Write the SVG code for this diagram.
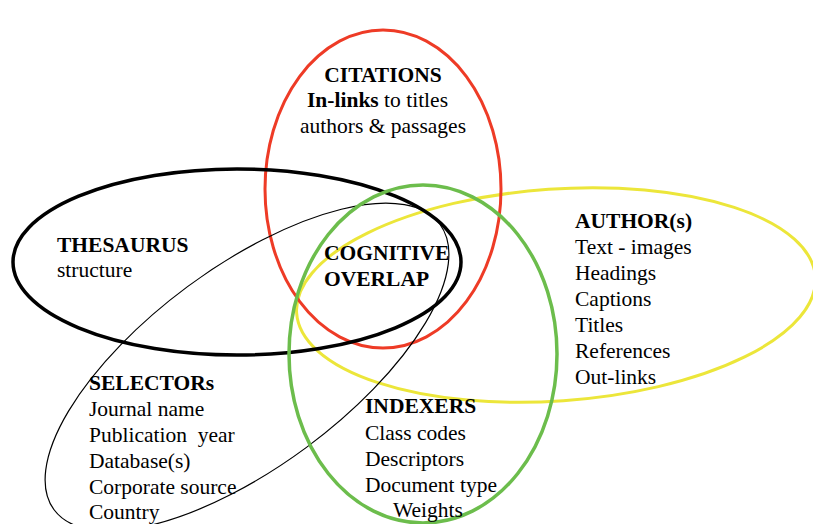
<svg xmlns="http://www.w3.org/2000/svg" width="813" height="524" viewBox="0 0 813 524">
<style>
text{font-family:"Liberation Serif","Times New Roman",serif;font-size:21.5px;fill:#000}
.b{font-weight:bold}
.e{fill:none}
.pre{white-space:pre}
</style>
<rect width="813" height="524" fill="#fff"/>
<g id="author">
<ellipse class="e" cx="556" cy="295" rx="260" ry="106" transform="rotate(-4 556 295)" stroke="#ece63a" stroke-width="3"/>
<text x="575" y="228" class="b">AUTHOR(s)</text>
<text x="575" y="254">Text - images</text>
<text x="575" y="280">Headings</text>
<text x="575" y="306">Captions</text>
<text x="575" y="332">Titles</text>
<text x="575" y="358">References</text>
<text x="575" y="384">Out-links</text>
</g>
<g id="citations">
<ellipse class="e" cx="383" cy="189" rx="118" ry="159" stroke="#ee3b26" stroke-width="3"/>
<text x="383" y="82" class="b" text-anchor="middle">CITATIONS</text>
<text x="307" y="107"><tspan class="b">In-links</tspan> to titles</text>
<text x="300" y="133">authors &amp; passages</text>
</g>
<g id="thesaurus">
<ellipse class="e" cx="237" cy="262" rx="224" ry="93" stroke="#000" stroke-width="3.5"/>
<text x="57" y="252" class="b">THESAURUS</text>
<text x="57" y="277">structure</text>
</g>
<g id="selectors">
<ellipse class="e" cx="247" cy="367" rx="240" ry="100" transform="rotate(-36.5 247 367)" stroke="#000" stroke-width="1.2"/>
<text x="89" y="390" class="b">SELECTORs</text>
<text x="89" y="416">Journal name</text>
<text x="89" y="442" class="pre">Publication  year</text>
<text x="89" y="468">Database(s)</text>
<text x="89" y="494">Corporate source</text>
<text x="89" y="519">Country</text>
</g>
<g id="indexers">
<ellipse class="e" cx="423" cy="354" rx="134" ry="169" stroke="#6cbd4c" stroke-width="3.5"/>
<text x="365" y="413" class="b">INDEXERS</text>
<text x="365" y="440">Class codes</text>
<text x="365" y="466">Descriptors</text>
<text x="365" y="492">Document type</text>
<text x="393" y="517">Weights</text>
</g>
<g id="cognitive-overlap">
<text x="324" y="260" class="b">COGNITIVE</text>
<text x="324" y="286" class="b">OVERLAP</text>
</g>
<g id="connectors"/>
</svg>
